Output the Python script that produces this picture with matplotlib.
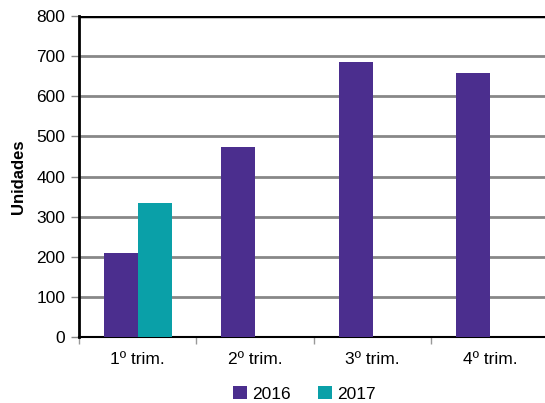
import matplotlib.pyplot as plt
import numpy as np

# datos
trimestres = ["1º trim.", "2º trim.", "3º trim.", "4º trim."]
valores_2016 = [210, 474, 686, 658]
valores_2017 = [335, 0, 0, 0]

plt.rcParams['font.family'] = ['Liberation Sans Narrow', 'Liberation Sans', 'DejaVu Sans']

fig = plt.figure(figsize=(5.45, 4.03), dpi=100)
ax = fig.add_axes([0.145, 0.164, 0.862, 0.796])

x = np.arange(len(trimestres))
ancho = 0.29
ax.bar(x - ancho / 2, valores_2016, ancho, color='#4B2E8E', label='2016', zorder=3)
ax.bar(x + ancho / 2, valores_2017, ancho, color='#0AA0A8', label='2017', zorder=3)

ax.set_ylim(0, 800)
ax.set_xlim(-0.5, 3.5)
ax.set_yticks(range(0, 801, 100))
ax.yaxis.grid(True, color='#888888', linewidth=2, zorder=0)
ax.axhline(800, color='black', linewidth=2.5, zorder=4)

ax.set_xticks(x)
ax.set_xticklabels(trimestres, fontsize=12.5)
ax.set_xticks(np.arange(-0.5, 4, 1), minor=True)
ax.tick_params(axis='x', which='major', length=0, pad=11)
ax.tick_params(axis='x', which='minor', length=5, color='#999999', width=1)
ax.tick_params(axis='y', labelsize=12.5, length=6, color='#888888', width=1, pad=4)

for s in ['top', 'right']:
    ax.spines[s].set_visible(False)
ax.spines['left'].set_linewidth(2)
ax.spines['bottom'].set_linewidth(1.5)

ax.set_ylabel("Unidades", fontsize=12, fontweight='bold', labelpad=7)

ax.legend(loc='upper center', bbox_to_anchor=(0.48, -0.105), ncol=2, frameon=False,
          fontsize=12.5, handlelength=0.8, handleheight=0.8, handletextpad=0.3,
          columnspacing=1.6)

plt.savefig("out.png", dpi=100)
